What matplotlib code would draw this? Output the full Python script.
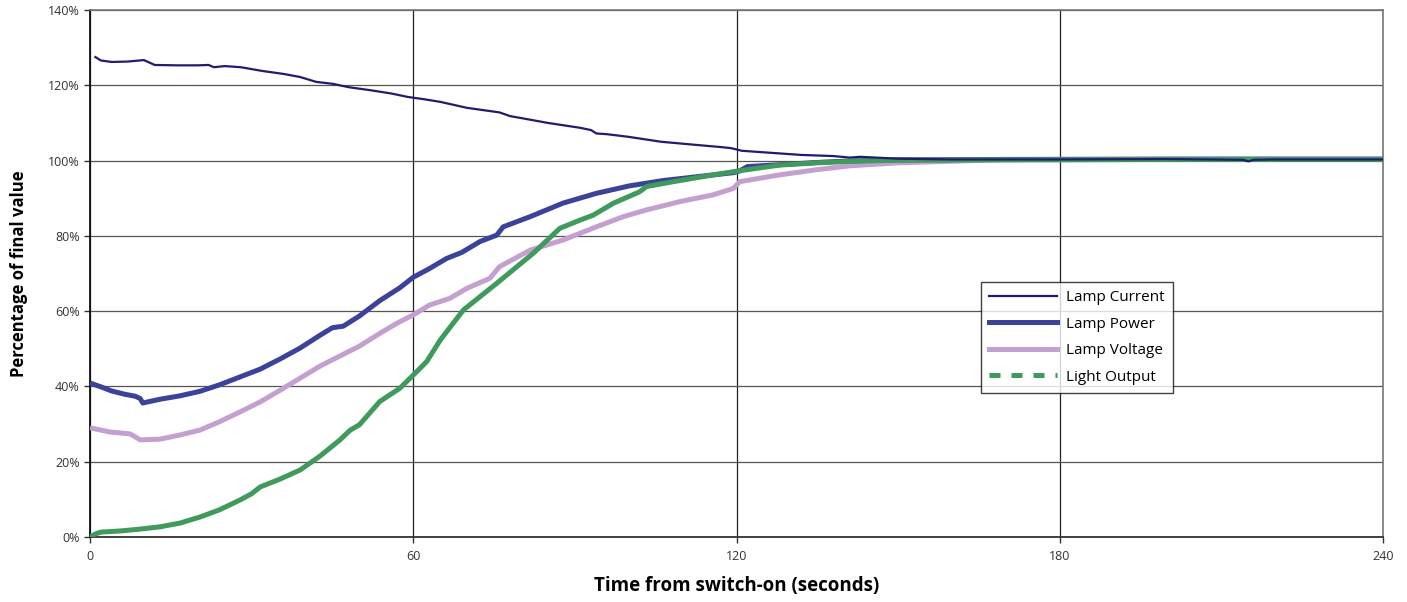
import matplotlib
matplotlib.use("Agg")
from matplotlib import pyplot as plt
from matplotlib.lines import Line2D
from matplotlib.ticker import FuncFormatter

# values (time in s, percentage of final value)
current_t = [1, 2, 4, 7, 10, 12, 16, 20, 22, 23, 25, 28, 32, 36, 39, 42, 45, 48, 52, 56, 59, 62, 65, 70, 73, 76, 78, 80, 85, 91, 93, 94, 96, 100, 106, 113, 117, 119, 121, 124, 132, 138, 141, 143, 150, 160, 180, 200, 214, 215, 216, 220, 240]
current_v = [127.5, 126.6, 126.2, 126.3, 126.7, 125.4, 125.3, 125.3, 125.4, 124.8, 125.1, 124.8, 123.8, 123.0, 122.2, 120.9, 120.4, 119.5, 118.7, 117.8, 116.9, 116.3, 115.6, 114.0, 113.4, 112.8, 111.8, 111.3, 110.0, 108.7, 108.1, 107.2, 107.0, 106.3, 105.0, 104.1, 103.6, 103.3, 102.6, 102.3, 101.5, 101.2, 100.8, 101.0, 100.5, 100.3, 100.3, 100.4, 100.2, 99.8, 100.2, 100.3, 100.3]

power_t = [0, 2, 4, 6.5, 8.4, 9.3, 9.8, 13, 16.7, 20.4, 24, 27.8, 31.6, 35.3, 39, 42.7, 45, 47, 50, 53.8, 57.5, 60, 63, 66.2, 69, 72.4, 75.5, 76.7, 81.7, 87.8, 94, 100.2, 106.4, 112.6, 119.5, 120.5, 122, 128, 135, 141, 150, 170, 200, 240]
power_v = [40.9, 39.9, 38.8, 37.9, 37.4, 36.8, 35.6, 36.6, 37.5, 38.7, 40.4, 42.5, 44.6, 47.3, 50.2, 53.6, 55.6, 56.0, 58.7, 62.8, 66.2, 69.0, 71.3, 74.0, 75.6, 78.5, 80.2, 82.4, 85.1, 88.7, 91.3, 93.3, 94.7, 95.7, 96.8, 97.2, 98.4, 98.9, 99.5, 99.9, 100.2, 100.3, 100.4, 100.4]

voltage_t = [0, 3.7, 7.4, 8.4, 9.3, 13, 16.7, 20.4, 24, 27.8, 31.6, 35.3, 39, 42.7, 46.4, 50, 53.8, 57, 60, 63, 66.8, 70, 74.2, 76, 81.7, 87.8, 94, 99, 103.3, 109.5, 115.7, 119.4, 120.6, 128, 135, 141, 150, 169, 200, 240]
voltage_v = [29.0, 27.9, 27.4, 26.6, 25.8, 26.0, 27.1, 28.4, 30.6, 33.2, 35.9, 39.0, 42.2, 45.4, 48.1, 50.7, 54.1, 56.8, 59.0, 61.6, 63.4, 66.1, 68.7, 71.8, 76.2, 78.9, 82.4, 85.1, 86.9, 89.1, 90.9, 92.6, 94.4, 96.2, 97.6, 98.6, 99.4, 100.2, 100.3, 100.3]

light_t = [0, 1, 2, 5.6, 9.3, 13, 16.7, 20.4, 24, 27.8, 30, 31.6, 35.3, 39, 42.7, 46.4, 48.3, 50, 53.8, 57.5, 60, 62.5, 65, 69.3, 75.5, 82.3, 87.2, 91, 93.4, 97.2, 102, 103.3, 108.3, 115.7, 120.6, 128, 135, 141, 150, 170, 200, 240]
light_v = [0.0, 0.8, 1.3, 1.6, 2.1, 2.7, 3.7, 5.3, 7.2, 9.8, 11.5, 13.3, 15.4, 17.8, 21.5, 25.8, 28.4, 29.8, 36.0, 39.5, 43.0, 46.6, 52.3, 60.3, 67.4, 75.4, 82.0, 84.2, 85.5, 88.7, 91.7, 93.1, 94.4, 96.2, 97.3, 98.8, 99.4, 99.8, 100.1, 100.2, 100.3, 100.3]

x_ticks = [0, 60, 120, 180, 240]
y_ticks = [0, 20, 40, 60, 80, 100, 120, 140]

c_current = '#221c6e'
c_power = '#3b4299'
c_voltage = '#c4a0d0'
c_light = '#3f9a5b'

plt.rcParams['font.family'] = ['Open Sans', 'DejaVu Sans']

fig = plt.figure(figsize=(14.07, 6.02), dpi=100)
ax = fig.add_axes([90 / 1407, 65 / 602, 1293 / 1407, 527 / 602])

ax.plot(voltage_t, voltage_v, color=c_voltage, linewidth=3.6, solid_capstyle='butt', zorder=3)
ax.plot(power_t, power_v, color=c_power, linewidth=3.6, solid_capstyle='butt', zorder=4)
ax.plot(light_t, light_v, color=c_light, linewidth=3.6, solid_capstyle='butt', zorder=5)
ax.plot(current_t, current_v, color=c_current, linewidth=1.6, zorder=6)

ax.set_xlim(0, 240)
ax.set_ylim(0, 140)
ax.set_xticks(x_ticks)
ax.set_yticks(y_ticks)
ax.yaxis.set_major_formatter(FuncFormatter(lambda v, p: '%d%%' % v))
ax.tick_params(axis='both', labelsize=9, colors='#333333', length=4, width=1)
ax.tick_params(axis='x', length=4, pad=5)

ax.grid(True, axis='y', color='#555555', linewidth=0.9)
ax.grid(True, axis='x', color='#222222', linewidth=0.9)
ax.set_axisbelow(True)
for s in ['top', 'right']:
    ax.spines[s].set_color('#777777')
    ax.spines[s].set_linewidth(1.2)
ax.spines['bottom'].set_color('#333333')
ax.spines['bottom'].set_linewidth(1.3)
ax.spines['left'].set_color('#111111')
ax.spines['left'].set_linewidth(1.3)

ax.set_xlabel('Time from switch-on (seconds)', fontsize=13.5, fontweight='bold', labelpad=10)
ax.set_ylabel('Percentage of final value', fontsize=12, fontweight='bold', labelpad=14)

handles = [
    Line2D([], [], color=c_current, linewidth=1.6),
    Line2D([], [], color=c_power, linewidth=3.6),
    Line2D([], [], color=c_voltage, linewidth=3.6),
    Line2D([], [], color=c_light, linewidth=3.6, linestyle=(0, (2.2, 2.2))),
]
labels = ['Lamp Current', 'Lamp Power', 'Lamp Voltage', 'Light Output']
leg = ax.legend(handles, labels, loc='upper left', bbox_to_anchor=(0.689, 0.484),
                fontsize=11, frameon=True, fancybox=False, handlelength=4.4,
                borderpad=0.55, labelspacing=0.75, handletextpad=0.6, borderaxespad=0)
leg.get_frame().set_edgecolor('#111111')
leg.get_frame().set_linewidth(1.0)
leg.set_zorder(10)

plt.savefig('out.png', dpi=100)
